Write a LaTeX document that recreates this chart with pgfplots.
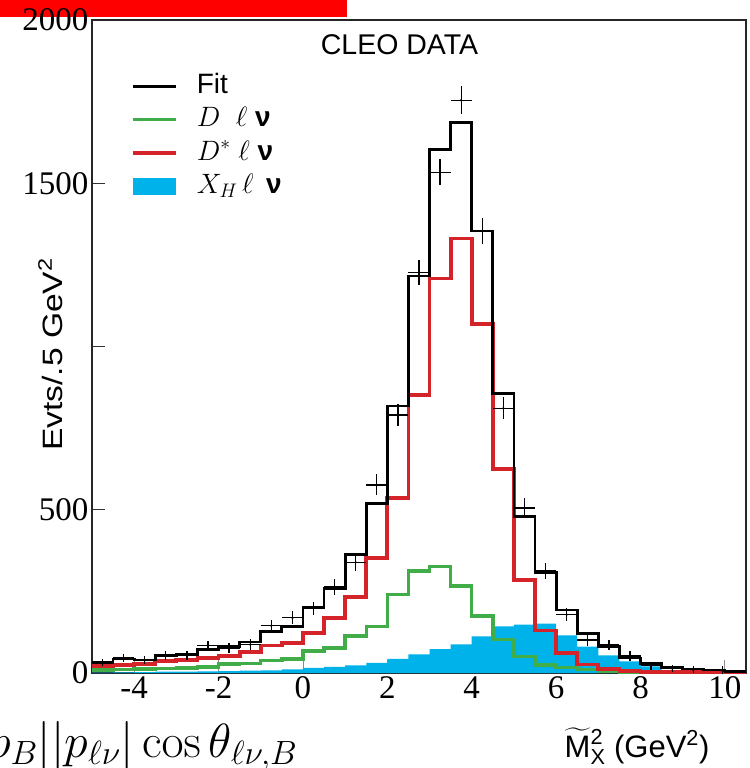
\RequirePackage{fix-cm}
\documentclass[border=0pt]{standalone}
\usepackage{amsmath}
\usepackage[no-math]{fontspec}
\setmainfont{Liberation Serif}
\setsansfont{Liberation Sans}
\usepackage{graphicx}
\usepackage{pgfplots}
\pgfplotsset{compat=1.18}
\usepackage{pgfplotstable}
\definecolor{fitred}{RGB}{213,35,42}
\definecolor{fitgreen}{RGB}{64,173,72}
\definecolor{xhblue}{RGB}{0,178,234}
\pgfplotsset{
  linelegend/.style={legend image code/.code={\draw[##1] (0bp,0bp) -- (43bp,0bp);}},
  arealegend/.style={legend image code/.code={\fill[##1] (0bp,-8.5bp) rectangle (43bp,8.5bp);}},
}

\pgfplotstableread{
x y
-5 31
-4.5 43
-4 40
-3.5 53
-3 57
-2.5 72
-2 80
-1.5 95
-1 128
-0.5 143
0 201
0.5 258
1 362
1.5 520
2 818
2.5 1216
3 1603
3.5 1687
4 1354
4.5 857
5 480
5.5 308
6 193
6.5 120
7 80
7.5 46
8 28
8.5 16
9 12
9.5 9
10 5
10.5 5
}\fittab

\pgfplotstableread{
x y
-5 21
-4.5 24
-4 28
-3.5 36
-3 39
-2.5 46
-2 53
-1.5 64
-1 84
-0.5 92
0 123
0.5 169
1 233
1.5 352
2 536
2.5 852
3 1208
3.5 1331
4 1069
4.5 624
5 284
5.5 130
6 62
6.5 26
7 12
7.5 6
8 4
8.5 3
9 2
9.5 2
10 1
10.5 1
}\dstartab

\pgfplotstableread{
x y
-5 9
-4.5 10
-4 12
-3.5 13
-3 15
-2.5 19
-2 27
-1.5 29
-1 38
-0.5 43
0 68
0.5 77
1 113
1.5 143
2 240
2.5 313
3 327
3.5 266
4 175
4.5 102
5 51
5.5 25
6 16
6.5 10
7 5
7.5 2
8 1
8.5 0
9 0
9.5 0
10 0
10.5 0
}\dtab

\pgfplotstableread{
x y
-5 1
-4.5 2
-4 3
-3.5 4
-3 4
-2.5 5
-2 6
-1.5 7
-1 8
-0.5 11
0 16
0.5 19
1 23
1.5 31
2 43
2.5 57
3 73
3.5 88
4 112
4.5 143
5 148
5.5 151
6 115
6.5 81
7 54
7.5 36
8 20
8.5 5
9 2
9.5 1
10 0
10.5 0
}\xhtab

\pgfplotstableread{
x y ex ey
-4.75 32 0.25 11
-4.25 46 0.25 12
-3.75 39 0.25 12
-3.25 53 0.25 13
-2.75 53 0.25 14
-2.25 84 0.25 15
-1.75 77 0.25 15
-1.25 87 0.25 16
-0.75 145 0.25 18
-0.25 169 0.25 20
0.25 199 0.25 20
0.75 264 0.25 25
1.25 339 0.25 27
1.75 576 0.25 32
2.25 790 0.25 34
2.75 1226 0.25 38
3.25 1534 0.25 40
3.75 1754 0.25 43
4.25 1354 0.25 40
4.75 811 0.25 33
5.25 505 0.25 30
5.75 312 0.25 25
6.25 179 0.25 20
6.75 101 0.25 17
7.25 86 0.25 15
7.75 52 0.25 14
8.25 22 0.25 13
8.75 14 0.25 10
9.25 10 0.25 10
9.95 5 0 15
}\datatab

\begin{document}
\begin{tikzpicture}
\path[use as bounding box] (0,0) rectangle (750bp,-768bp);
\fill[red] (0,0) rectangle (347bp,-17bp);
\begin{axis}[
  at={(92bp,-673bp)}, anchor=south west,
  scale only axis, width=654bp, height=653bp,
  xmin=-5, xmax=10.5, ymin=0, ymax=2000,
  axis line style={black!85, line width=2.4bp},
  tick align=inside, tick pos=left,
  major tick length=13bp,
  xtick={-4,-2,0,2,4,6,8,10},
  xticklabels={-4,-2,0,2,4,6,8,10},
  ytick={0,500,1000,1500,2000},
  yticklabels={0,500,,1500,2000},
  xtick style={black!45, line width=0.9bp},
  ytick style={black!80, line width=1.4bp},
  tick label style={font=\fontsize{33bp}{33bp}\selectfont},
  legend cell align=left,
  legend style={draw=none, fill=none, at={(0.055,0.922)}, anchor=north west,
    font=\fontsize{28bp}{30bp}\sffamily, column sep=19bp, row sep=7.5bp,
    nodes={inner sep=0bp, text height=20bp, text depth=6bp}},
]
\addlegendimage{black, line width=2.8bp, linelegend}
\addlegendentry{Fit}
\addlegendimage{fitgreen, line width=3.6bp, linelegend}
\addlegendentry{$D\ \ \ell$ {\bfseries ν}}
\addlegendimage{fitred, line width=3.6bp, linelegend}
\addlegendentry{$D^{*}\ \ell$ {\bfseries ν}}
\addlegendimage{fill=xhblue, draw=none, arealegend}
\addlegendentry{$X_H\,\ell$\, {\bfseries ν}}

\addplot[const plot, fill=xhblue, draw=none, forget plot] table[x=x,y=y] {\xhtab} \closedcycle;
\addplot[const plot, fitgreen, line width=3.4bp, forget plot] table[x=x,y=y] {\dtab};
\addplot[const plot, fitred, line width=3.8bp, forget plot] table[x=x,y=y] {\dstartab};
\addplot[const plot, black, line width=2.8bp, forget plot] table[x=x,y=y] {\fittab};
\addplot[only marks, mark=*, mark size=1bp, black, forget plot,
  error bars/.cd, x dir=both, x explicit, y dir=both, y explicit,
  error mark=none, error bar style={line width=1.3bp, black}]
  table[x=x, y=y, x error=ex, y error=ey] {\datatab};
\end{axis}
\node[anchor=base, font=\fontsize{28.5bp}{30bp}\sffamily] at (399.5bp,-54bp) {CLEO DATA};
\node[anchor=base, rotate=90, font=\fontsize{28bp}{30bp}\sffamily] at (62bp,-354.5bp) {\scalebox{1.2}[1]{Evts/.5 GeV$^{\text{2}}$}};
\node[anchor=base, font=\fontsize{31bp}{33bp}\sffamily] at (637bp,-757bp) {${\smash{\widetilde{\text{M}}}\vphantom{\text{M}}}^{\text{2}}_{\text{X}}$ (GeV$^{\text{2}}$)};
\node[anchor=base east, font=\fontsize{48bp}{50bp}\selectfont] at (301bp,-757bp) {$2|p_B||p_{\ell\nu}|\cos\theta_{\ell\nu,B}$};
\end{tikzpicture}
\end{document}
